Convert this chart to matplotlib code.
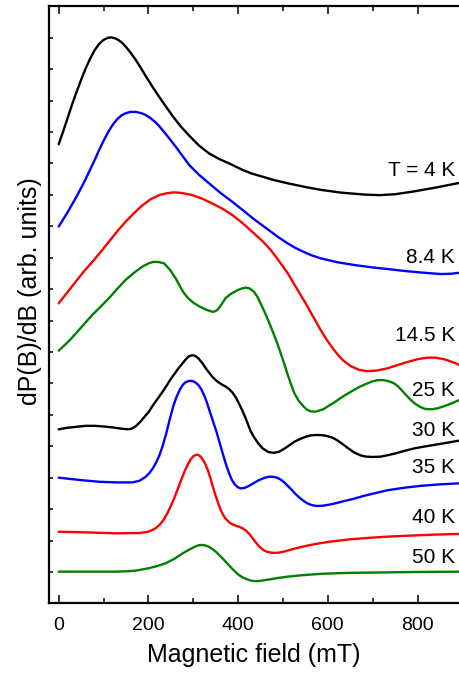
import matplotlib
matplotlib.use("Agg")
import matplotlib.pyplot as plt
from matplotlib.ticker import MultipleLocator, NullFormatter

plt.rcParams['font.family'] = ['Liberation Sans', 'DejaVu Sans']

# ---- data (field in mT, signal in arbitrary offset units) ----
b_4K = [0, 10, 20, 30, 40, 50, 60, 70, 80, 90, 100, 110, 118, 126, 134, 142, 150, 160, 172, 184, 194,
        210, 224, 240, 255, 272, 290, 312, 335, 358, 380, 409, 430, 454, 480, 510, 550, 584, 630, 681,
        714, 750, 788, 840, 893]
s_4K = [14.61, 15.02, 15.45, 15.88, 16.28, 16.66, 17.02, 17.33, 17.60, 17.80, 17.93, 18.00, 18.01, 17.98,
        17.92, 17.83, 17.71, 17.53, 17.29, 17.02, 16.78, 16.42, 16.12, 15.79, 15.49, 15.18, 14.90, 14.58,
        14.32, 14.14, 14.00, 13.80, 13.68, 13.58, 13.47, 13.37, 13.25, 13.16, 13.07, 13.01, 12.99, 13.02,
        13.10, 13.23, 13.38]

b_8K = [0, 10, 20, 30, 40, 50, 60, 70, 80, 90, 100, 110, 120, 130, 140, 150, 160, 172, 184, 194, 205,
        215, 224, 235, 248, 261, 276, 291, 312, 335, 360, 387, 410, 435, 455, 473, 490, 510, 528, 547,
        565, 584, 620, 658, 700, 733, 770, 807, 852, 875, 893]
s_8K = [11.99, 12.22, 12.45, 12.70, 12.95, 13.22, 13.50, 13.80, 14.10, 14.42, 14.72, 14.99, 15.22, 15.40,
        15.53, 15.60, 15.64, 15.64, 15.60, 15.54, 15.44, 15.32, 15.19, 15.00, 14.77, 14.53, 14.24, 13.95,
        13.65, 13.37, 13.07, 12.78, 12.52, 12.23, 12.02, 11.83, 11.65, 11.46, 11.31, 11.18, 11.07, 10.98,
        10.86, 10.77, 10.69, 10.64, 10.58, 10.53, 10.48, 10.49, 10.52]

b_14K = [0, 20, 38, 56, 75, 94, 112, 130, 149, 168, 186, 205, 224, 240, 257, 275, 298, 320, 342, 365,
         387, 410, 435, 455, 473, 490, 510, 525, 540, 553, 565, 575, 584, 598, 614, 625, 635, 651, 670,
         688, 710, 733, 755, 777, 800, 822, 840, 859, 876, 893]
s_14K = [9.55, 9.91, 10.24, 10.56, 10.87, 11.19, 11.51, 11.83, 12.14, 12.42, 12.66, 12.86, 12.99, 13.05,
         13.08, 13.06, 12.99, 12.88, 12.73, 12.56, 12.36, 12.10, 11.78, 11.52, 11.24, 10.92, 10.52, 10.16,
         9.80, 9.49, 9.18, 8.93, 8.70, 8.38, 8.06, 7.87, 7.72, 7.55, 7.43, 7.39, 7.41, 7.48, 7.58, 7.68,
         7.77, 7.82, 7.82, 7.77, 7.69, 7.59]

b_25K = [0, 25, 50, 75, 94, 112, 130, 149, 168, 186, 200, 212, 224, 235, 248, 261, 270, 278, 288, 300,
         315, 330, 340, 346, 353, 360, 366, 372, 381, 390, 398, 406, 417, 426, 435, 443, 450, 456, 462,
         471, 480, 488, 495, 503, 510, 518, 525, 535, 545, 553, 562, 571, 580, 590, 599, 615, 630, 645,
         658, 672, 685, 698, 710, 720, 730, 740, 748, 757, 765, 775, 785, 795, 805, 814, 822, 833, 845,
         856, 866, 880, 893]
s_25K = [8.04, 8.38, 8.78, 9.18, 9.45, 9.71, 10.00, 10.29, 10.52, 10.71, 10.82, 10.87, 10.86, 10.82, 10.62,
         10.34, 10.10, 9.90, 9.72, 9.57, 9.44, 9.34, 9.29, 9.28, 9.33, 9.45, 9.58, 9.71, 9.82, 9.90, 9.96,
         10.01, 10.05, 10.02, 9.92, 9.76, 9.55, 9.37, 9.18, 8.87, 8.55, 8.25, 7.96, 7.62, 7.30, 6.97, 6.70,
         6.45, 6.28, 6.17, 6.11, 6.10, 6.13, 6.18, 6.26, 6.40, 6.55, 6.68, 6.79, 6.90, 6.98, 7.06, 7.10,
         7.11, 7.09, 7.05, 7.00, 6.90, 6.78, 6.62, 6.47, 6.35, 6.26, 6.20, 6.18, 6.18, 6.21, 6.26, 6.31,
         6.39, 6.47]

b_30K = [0, 20, 40, 60, 80, 100, 120, 140, 155, 163, 172, 182, 192, 201, 210, 220, 230, 239, 248, 258,
         267, 276, 283, 290, 298, 305, 312, 320, 330, 342, 352, 362, 372, 380, 388, 395, 402, 409, 416,
         422, 428, 435, 445, 455, 467, 480, 492, 505, 515, 525, 538, 550, 563, 577, 590, 600, 611, 621,
         633, 645, 658, 673, 685, 700, 718, 735, 750, 770, 792, 815, 840, 865, 893]
s_30K = [5.54, 5.59, 5.62, 5.65, 5.65, 5.63, 5.60, 5.56, 5.54, 5.56, 5.64, 5.78, 5.95, 6.10, 6.30, 6.50,
         6.70, 6.89, 7.10, 7.30, 7.48, 7.64, 7.76, 7.86, 7.90, 7.87, 7.79, 7.65, 7.44, 7.22, 7.08, 6.98,
         6.90, 6.82, 6.70, 6.55, 6.36, 6.15, 5.92, 5.70, 5.48, 5.30, 5.09, 4.93, 4.82, 4.79, 4.83, 4.94,
         5.04, 5.14, 5.23, 5.30, 5.35, 5.36, 5.35, 5.32, 5.27, 5.19, 5.07, 4.94, 4.81, 4.71, 4.67, 4.66,
         4.67, 4.72, 4.77, 4.85, 4.93, 4.99, 5.05, 5.11, 5.18]

b_35K = [0, 45, 90, 130, 164, 180, 194, 203, 210, 217, 224, 232, 240, 248, 256, 263, 270, 276, 282, 290,
         298, 305, 312, 318, 325, 331, 337, 344, 352, 359, 366, 373, 380, 386, 393, 400, 406, 413, 420,
         428, 435, 446, 458, 468, 478, 487, 495, 503, 510, 519, 528, 538, 547, 555, 562, 570, 577, 590,
         610, 635, 658, 680, 700, 733, 770, 807, 852, 893]
s_35K = [4.00, 3.93, 3.87, 3.85, 3.85, 3.90, 4.03, 4.16, 4.30, 4.48, 4.69, 5.02, 5.42, 5.88, 6.30, 6.58,
         6.80, 6.94, 7.03, 7.08, 7.08, 7.03, 6.94, 6.81, 6.60, 6.37, 6.10, 5.80, 5.45, 5.10, 4.76, 4.42,
         4.14, 3.93, 3.78, 3.69, 3.66, 3.67, 3.71, 3.77, 3.83, 3.92, 3.99, 4.03, 4.03, 4.00, 3.94, 3.85,
         3.75, 3.62, 3.48, 3.35, 3.25, 3.18, 3.14, 3.11, 3.10, 3.11, 3.16, 3.25, 3.33, 3.42, 3.49, 3.60,
         3.68, 3.74, 3.79, 3.82]

b_40K = [0, 60, 127, 180, 200, 215, 225, 234, 242, 250, 258, 266, 273, 280, 287, 294, 300, 305, 310, 315,
         320, 326, 332, 338, 344, 350, 357, 363, 369, 375, 381, 388, 395, 402, 410, 418, 425, 432, 440,
         448, 456, 465, 476, 488, 500, 515, 528, 545, 565, 585, 603, 650, 696, 740, 790, 840, 893]
s_40K = [2.28, 2.26, 2.23, 2.24, 2.28, 2.38, 2.50, 2.66, 2.86, 3.10, 3.36, 3.66, 3.92, 4.18, 4.40, 4.58,
         4.68, 4.72, 4.73, 4.69, 4.60, 4.46, 4.26, 4.00, 3.70, 3.42, 3.13, 2.92, 2.76, 2.65, 2.57, 2.51,
         2.47, 2.44, 2.39, 2.31, 2.21, 2.08, 1.93, 1.80, 1.70, 1.64, 1.61, 1.61, 1.64, 1.70, 1.75, 1.81,
         1.87, 1.92, 1.96, 2.04, 2.09, 2.13, 2.16, 2.19, 2.21]

b_50K = [0, 60, 127, 150, 170, 186, 201, 220, 239, 258, 268, 276, 286, 296, 305, 312, 320, 328, 335, 342,
         350, 357, 365, 372, 380, 387, 395, 402, 410, 418, 427, 435, 445, 455, 473, 490, 510, 545, 584,
         640, 696, 800, 893]
s_50K = [1.01, 1.01, 1.01, 1.02, 1.04, 1.08, 1.12, 1.19, 1.28, 1.42, 1.51, 1.59, 1.67, 1.75, 1.81, 1.85,
         1.86, 1.84, 1.80, 1.74, 1.65, 1.55, 1.44, 1.33, 1.21, 1.10, 0.99, 0.90, 0.83, 0.78, 0.73, 0.71,
         0.71, 0.73, 0.77, 0.81, 0.85, 0.90, 0.94, 0.97, 0.98, 1.00, 1.01]

labels = ["T = 4 K", "8.4 K", "14.5 K", "25 K", "30 K", "35 K", "40 K", "50 K"]
label_y = [13.79, 11.0, 8.51, 6.76, 5.49, 4.31, 2.73, 1.46]
colors = ["black", "#0000ff", "#ff0000", "#008000", "black", "#0000ff", "#ff0000", "#008000"]
x_ticks = [0, 200, 400, 600, 800]

series = [(b_4K, s_4K), (b_8K, s_8K), (b_14K, s_14K), (b_25K, s_25K),
          (b_30K, s_30K), (b_35K, s_35K), (b_40K, s_40K), (b_50K, s_50K)]

fig = plt.figure(figsize=(4.59, 6.73), dpi=100)
ax = fig.add_axes([0.10675, 0.10342, 0.89325, 0.88722])

for (b, s), c in zip(series, colors):
    ax.plot(b, s, color=c, lw=1.7, solid_joinstyle='round', solid_capstyle='round')

for lab, yy in zip(labels, label_y):
    ax.text(884, yy, lab, ha='right', va='center', fontsize=15, color='black')

ax.set_xlim(-21.6, 892.5)
ax.set_ylim(0, 19)
ax.set_xticks(x_ticks)
ax.xaxis.set_minor_locator(MultipleLocator(100))
ax.yaxis.set_major_locator(MultipleLocator(1))
ax.yaxis.set_major_formatter(NullFormatter())

ax.tick_params(axis='x', which='major', direction='in', length=5.8, width=1.1,
               top=True, bottom=True, labelsize=14, pad=10)
ax.tick_params(axis='x', which='minor', direction='in', length=3.6, width=1.1,
               top=True, bottom=True)
ax.tick_params(axis='y', which='major', direction='in', length=2.9, width=1.1,
               left=True, right=False, labelleft=False)

for side in ['left', 'bottom', 'top']:
    ax.spines[side].set_linewidth(1.6)
ax.spines['right'].set_visible(False)

ax.set_xlabel("Magnetic field (mT)", fontsize=18, labelpad=6)
ax.set_ylabel("dP(B)/dB (arb. units)", fontsize=18, labelpad=5)
ax.yaxis.label.set_y(0.523)

fig.savefig("out.png", dpi=100)
